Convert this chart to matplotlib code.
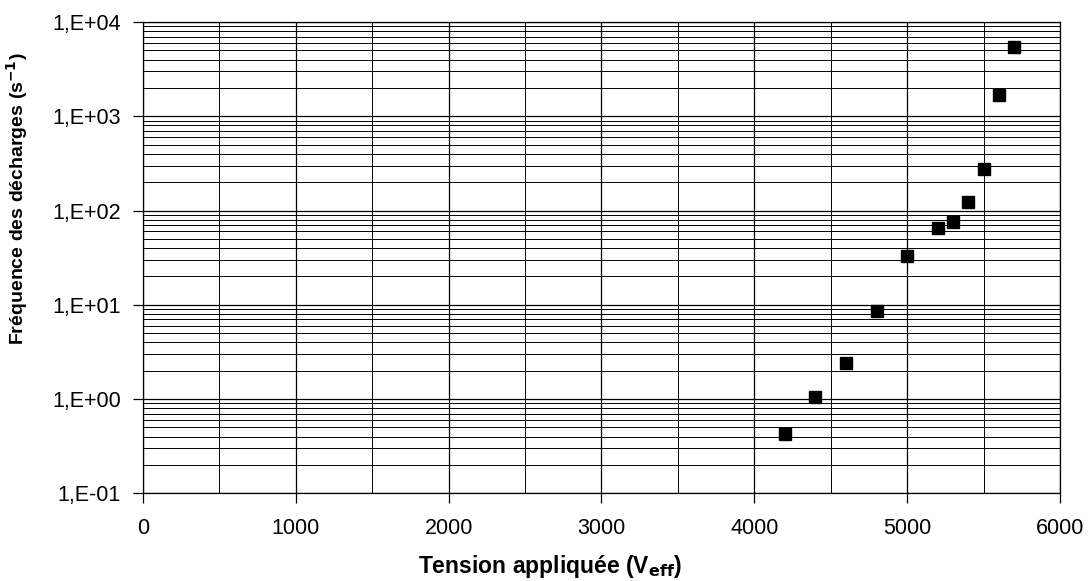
import numpy as np
import matplotlib
matplotlib.use('Agg')
import matplotlib.pyplot as plt
from matplotlib.ticker import FixedLocator, FuncFormatter, LogLocator, NullFormatter

plt.rcParams['font.family'] = ['Liberation Sans', 'DejaVu Sans']

# tension (V eff) et frequence des decharges (1/s)
tension = [4200, 4400, 4600, 4800, 5000, 5200, 5300, 5400, 5500, 5600, 5700]
frequence = [0.43, 1.05, 2.4, 8.6, 33, 66, 76, 122, 274, 1670, 5400]

fig = plt.figure(figsize=(10.89, 5.81), dpi=100)
ax = fig.add_axes([0.1313, 0.151, 0.842, 0.811])

ax.set_yscale('log')
ax.set_xlim(0, 6000)
ax.set_ylim(0.1, 1e4)

ax.xaxis.set_major_locator(FixedLocator(np.arange(0, 6001, 1000)))
ax.xaxis.set_minor_locator(FixedLocator(np.arange(500, 6000, 1000)))
ax.yaxis.set_major_locator(LogLocator(base=10, numticks=10))
ax.yaxis.set_minor_locator(LogLocator(base=10, subs=np.arange(2, 10), numticks=20))
ax.yaxis.set_minor_formatter(NullFormatter())

def sci_fmt(v, pos):
    e = int(round(np.log10(v)))
    return '1,E%s%02d' % ('+' if e >= 0 else '-', abs(e))

ax.yaxis.set_major_formatter(FuncFormatter(sci_fmt))

ax.grid(True, which='major', color='black', linewidth=0.9)
ax.grid(True, which='minor', color='black', linewidth=0.7)
ax.set_axisbelow(True)

ax.tick_params(axis='both', which='major', labelsize=15.5, length=7, width=0.9,
               direction='out')
ax.tick_params(axis='y', which='major', pad=9)
ax.tick_params(axis='x', which='major', pad=11)
ax.tick_params(which='minor', length=0)

for s in ax.spines.values():
    s.set_linewidth(0.9)
    s.set_color('black')

ax.plot(tension, frequence, linestyle='none', marker='s', markersize=9,
        color='black', zorder=5)

ax.set_xlabel('Tension appliquée (V$_{\\mathbf{eff}}$)', fontsize=16.5,
              fontweight='bold')
ax.set_ylabel('Fréquence des décharges (s$^{\\mathbf{-1}}$)', fontsize=14,
              fontweight='bold')
ax.xaxis.set_label_coords(0.444, -0.127)
ax.yaxis.set_label_coords(-0.123, 0.625)

fig.savefig('out.png', dpi=100)
